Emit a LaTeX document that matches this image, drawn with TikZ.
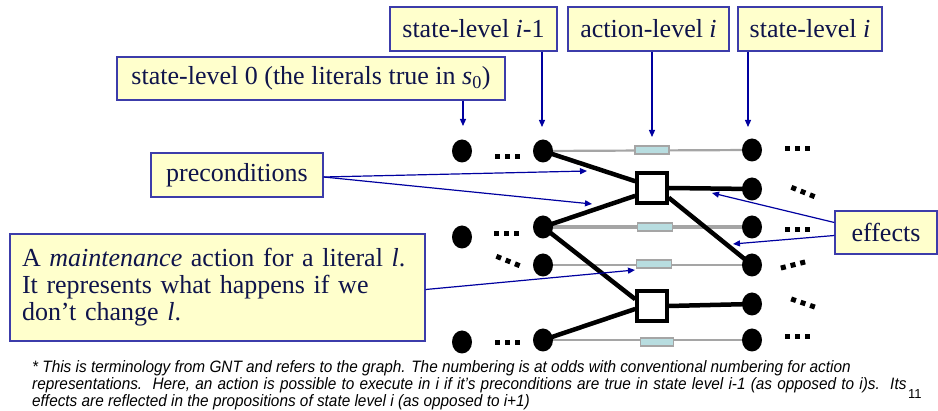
\documentclass[tikz,border=0pt]{standalone}
\usepackage{fontspec}
\setmainfont{Liberation Serif}
\newfontfamily\footfont[FakeStretch=0.93]{Liberation Sans}
\newfontfamily\pgnfont{Liberation Sans}
\usetikzlibrary{arrows.meta,shapes.geometric}
\definecolor{boxfill}{RGB}{255,255,204}
\definecolor{boxline}{RGB}{60,60,170}
\definecolor{boxtext}{RGB}{15,20,75}
\definecolor{arrcol}{RGB}{0,0,160}
\definecolor{graycol}{RGB}{165,165,165}
\definecolor{maintfill}{RGB}{184,221,224}
\tikzset{
  box/.style={draw=boxline, fill=boxfill, line width=1.4pt, text=boxtext, inner sep=0pt,
    minimum height=44, font=\fontsize{26}{27}\selectfont},
  arr/.style={draw=arrcol, line width=1.2pt, -{Triangle[length=7pt,width=6pt]}},
  litdot/.style={ellipse, fill=black, minimum width=20, minimum height=23, inner sep=0pt},
  thickedge/.style={line width=4.5pt, black},
  greyedge/.style={line width=2.6pt, graycol},
  maintrect/.style={draw=graycol, fill=maintfill, line width=1.8pt, minimum width=34, minimum height=8, inner sep=0pt},
  actsq/.style={draw=black, fill=white, line width=3.5pt, minimum width=30, minimum height=30, inner sep=0pt},
  ell/.pic={\foreach \k in {-1,0,1} \fill[black] (\k*10-2.5,-2.5) rectangle ++(5,5);},
  foot/.style={anchor=base west, inner sep=0pt, font=\footfont\itshape\fontsize{16.5}{18}\selectfont}
}
\begin{document}
\begin{tikzpicture}[x=1pt,y=-1pt]
\useasboundingbox (0,0) rectangle (938,411);
% literal dots positions
\coordinate (A1) at (462,151);
\coordinate (A2) at (462,237);
\coordinate (A3) at (462,342);
\coordinate (B1) at (543,151);
\coordinate (B2) at (543,227);
\coordinate (B3) at (543,265);
\coordinate (B4) at (543,340);
\coordinate (R1) at (752,150);
\coordinate (R2) at (752,189);
\coordinate (R3) at (752,227);
\coordinate (R4) at (752,265);
\coordinate (R5) at (752,304);
\coordinate (R6) at (752,340);
% action squares
\node[actsq] (sq1) at (652,188) {};
\node[actsq] (sq2) at (652,306) {};
% maintenance lines
\draw[greyedge, line width=2.2pt] (B1) -- (R1);
\draw[greyedge, line width=3.2pt] (B2) -- (R3);
\draw[greyedge, line width=2.2pt] (B3) -- (R4);
\draw[greyedge, line width=2.2pt] (B4) -- (R6);
\node[maintrect] (m1) at (652,150) {};
\node[maintrect, minimum width=35] (m2) at (655,227) {};
\node[maintrect, minimum width=35] (m3) at (654,264) {};
\node[maintrect, minimum width=33] (m4) at (657,342) {};
% action edges
\draw[thickedge] (B1) -- (sq1.158);
\draw[thickedge] (B2) -- (sq1.205);
\draw[thickedge] (sq1.east) -- (R2);
\draw[thickedge] (sq1.-30) -- (R4);
\draw[thickedge] (B2) -- (sq2.158);
\draw[thickedge] (B4) -- (sq2.190);
\draw[thickedge] (sq2.east) -- (R5);
\node[actsq] (sq1b) at (sq1) {};
\node[actsq] (sq2b) at (sq2) {};
% dots
\foreach \p in {A1,A2,A3,B1,B2,B3,B4,R1,R2,R3,R4,R5,R6}
  \node[litdot] (d\p) at (\p) {};
% ellipses
\pic at (507,157) {ell};
\pic at (506,234) {ell};
\pic[rotate=-22] at (508,261) {ell};
\pic at (507,343) {ell};
\pic at (797,149) {ell};
\pic[rotate=-22] at (803,192) {ell};
\pic at (797,230) {ell};
\pic[rotate=14] at (793,265) {ell};
\pic[rotate=-19] at (803,303) {ell};
\pic at (797,337) {ell};
% label boxes
\node[box, minimum width=167] (sl1) at (473.5,29) {state-level \textit{i}-1};
\node[box, minimum width=161] (al) at (648.5,29) {action-level \textit{i}};
\node[box, minimum width=144] (sl) at (810,29) {state-level \textit{i}};
\node[box, minimum width=388, minimum height=43] (sl0) at (311,78.5) {state-level 0 (the literals true in \textit{s}\textsubscript{0})};
\node[box, minimum width=172] (pre) at (237,175) {preconditions};
\node[box, minimum width=102, minimum height=43] (eff) at (886,232.5) {effects};
\node[box, minimum width=415, minimum height=107, text width=391, align=left] (maint) at (217.5,287.5)
  {A \textit{maintenance} action for a literal \textit{l}.\\It represents what happens if we\\don’t change \textit{l}.};
% arrow tips
\coordinate (t0) at (463,126);
\coordinate (t1) at (542,127);
\coordinate (t2) at (652,137);
\coordinate (t3) at (748,127);
\coordinate (p1) at (587,171);
\coordinate (p2) at (592,204);
\coordinate (e1) at (712,193);
\coordinate (e2) at (733,244);
\coordinate (mt) at (635,270);
\draw[arr] (sl0.south -| t0) -- (t0);
\draw[arr] (sl1.south -| t1) -- (t1);
\draw[arr] (al.south -| t2) -- (t2);
\draw[arr] (sl.south -| t3) -- (t3);
\draw[arr] ([yshift=-2pt]pre.east) -- (p1);
\draw[arr] ([yshift=-2pt]pre.east) -- (p2);
\draw[arr] ([yshift=10pt]eff.west) -- (e1);
\draw[arr] ([yshift=-3pt]eff.west) -- (e2);
\draw[arr] ([yshift=-2pt]maint.east) -- (mt);
% footnote
\node[foot] (f1) at (32,373) {* This is terminology from GNT and refers to the graph. The numbering is at odds with conventional numbering for action};
\node[foot] (f2) at (32,390) {\spaceskip=5.2pt representations.\ \ Here, an action is possible to execute in i if it’s preconditions are true in state level i-1 (as opposed to i)s.\ \ Its};
\node[foot] (f3) at (32,407) {effects are reflected in the propositions of state level i (as opposed to i+1)};
\node[anchor=base west, inner sep=0pt, font=\pgnfont\fontsize{13}{14}\selectfont] (pg) at (908,399) {11};
\end{tikzpicture}
\end{document}
